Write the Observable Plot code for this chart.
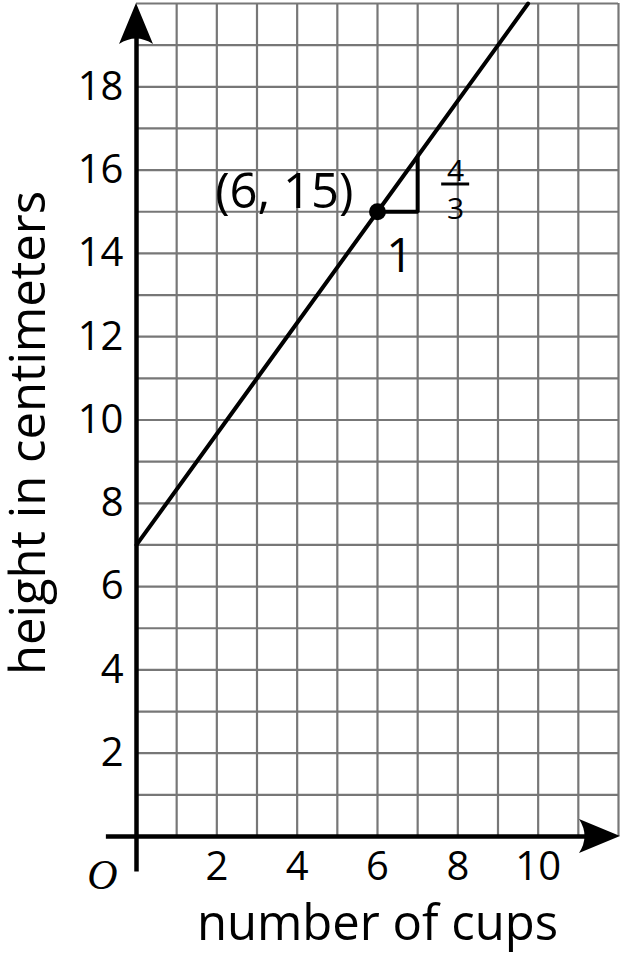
<!DOCTYPE html>
<html>
<head>
<meta charset="utf-8">
<script src="https://cdn.jsdelivr.net/npm/d3@7"></script>
<script src="https://cdn.jsdelivr.net/npm/@observablehq/plot@0.6"></script>
<style>
  html, body { margin: 0; padding: 0; background: #fff; }
  #chart svg { display: block; }
</style>
</head>
<body>
<div id="chart"></div>
<script>
// ---- data ----
const xTicks = [2, 4, 6, 8, 10];
const yTicks = [2, 4, 6, 8, 10, 12, 14, 16, 18];
const gridX = [1, 2, 3, 4, 5, 6, 7, 8, 9, 10, 11, 12];
const gridY = [1, 2, 3, 4, 5, 6, 7, 8, 9, 10, 11, 12, 13, 14, 15, 16, 17, 18, 19, 20];
const lineCups = [0, 6, 9.75];
const lineHeight = [7, 15, 20];
const pointCups = [6];
const pointHeight = [15];
const slopeCups = [6, 7, 7];
const slopeHeight = [15, 15, 16.333];
const xTitle = "number of cups";
const yTitle = "height in centimeters";
const pointLabel = "(6, 15)";
const runLabel = "1";
const riseNum = "4";
const riseDen = "3";
const originLabel = "O";

const lineData = lineCups.map((c, i) => ({cups: c, height: lineHeight[i]}));
const pointData = pointCups.map((c, i) => ({cups: c, height: pointHeight[i]}));
const slopeData = slopeCups.map((c, i) => ({cups: c, height: slopeHeight[i]}));
const fracAt = [{cups: slopeCups[1], height: (slopeHeight[1] + slopeHeight[2]) / 2}];
const runAt = [{cups: (slopeCups[0] + slopeCups[1]) / 2, height: slopeHeight[0]}];

const GRID = "#777777";

// decorations drawn from the scales: arrowheads and fraction bar
function decor(index, {x, y}) {
  const g = d3.create("svg:g");
  const x0 = x(0), y0 = y(0);
  const yTip = y(20), xTip = x(12) + 2;
  g.append("path")
    .attr("d", `M${x0},${yTip} L${x0 + 17},${yTip + 41} Q${x0},${yTip + 30} ${x0 - 17},${yTip + 41} Z`)
    .attr("fill", "black");
  g.append("path")
    .attr("d", `M${xTip},${y0} L${xTip - 41},${y0 - 17} Q${xTip - 30},${y0} ${xTip - 41},${y0 + 17} Z`)
    .attr("fill", "black");
  const fx = x(fracAt[0].cups) + 38, fy = y(fracAt[0].height) + 0.5;
  g.append("line")
    .attr("x1", fx - 14).attr("x2", fx + 14)
    .attr("y1", fy).attr("y2", fy)
    .attr("stroke", "black").attr("stroke-width", 3);
  return g.node();
}

const chart = Plot.plot({
  width: 621,
  height: 960,
  marginLeft: 136,
  marginRight: 3,
  marginTop: 3,
  marginBottom: 124,
  x: {domain: [0, 12], axis: null},
  y: {domain: [0, 20], axis: null},
  style: {fontFamily: "'Open Sans', sans-serif", background: "white", color: "black"},
  marks: [
    Plot.ruleX(gridX, {y1: 0, y2: 20, stroke: GRID, strokeWidth: 2.2}),
    Plot.ruleY(gridY, {x1: 0, x2: 12, stroke: GRID, strokeWidth: 2.2}),
    Plot.ruleY([0], {x1: -0.75, x2: 11.5, stroke: "black", strokeWidth: 4.5}),
    Plot.ruleX([0], {y1: -0.85, y2: 19.5, stroke: "black", strokeWidth: 4.5}),
    Plot.line(lineData, {x: "cups", y: "height", stroke: "black", strokeWidth: 4}),
    Plot.line(slopeData, {x: "cups", y: "height", stroke: "black", strokeWidth: 4, strokeLinejoin: "miter"}),
    Plot.dot(pointData, {x: "cups", y: "height", r: 8.5, fill: "black", stroke: null}),
    decor,
    Plot.text(xTicks, {x: d => d, y: 0, dy: 31, text: d => String(d), fontSize: 40, fill: "black"}),
    Plot.text(yTicks, {x: 0, y: d => d, dx: -13, text: d => String(d), textAnchor: "end", fontSize: 40, fill: "black"}),
    Plot.text([xTitle], {frameAnchor: "bottom", dy: 88, text: d => d, textAnchor: "middle", lineAnchor: "middle", fontSize: 49, fill: "black"}),
    Plot.text([yTitle], {frameAnchor: "left", dx: -107, dy: 13, rotate: -90, text: d => d, textAnchor: "middle", lineAnchor: "middle", fontSize: 49, fill: "black"}),
    Plot.text(pointData, {x: "cups", y: "height", dx: -24, dy: -19, text: () => pointLabel, textAnchor: "end", fontSize: 49, fill: "black"}),
    Plot.text(runAt, {x: "cups", y: "height", dx: 2, dy: 45, text: () => runLabel, fontSize: 47, fill: "black"}),
    Plot.text(fracAt, {x: "cups", y: "height", dx: 38, dy: -13, text: () => riseNum, fontSize: 30, fill: "black"}),
    Plot.text(fracAt, {x: "cups", y: "height", dx: 38, dy: 25, text: () => riseDen, fontSize: 30, fill: "black"}),
    Plot.text([originLabel], {x: 0, y: 0, dx: -34, dy: 39, text: d => d, fontSize: 42, fontStyle: "italic", fontFamily: "'Liberation Serif', serif", fill: "black"})
  ]
});
document.getElementById("chart").appendChild(chart);
</script>
</body>
</html>
